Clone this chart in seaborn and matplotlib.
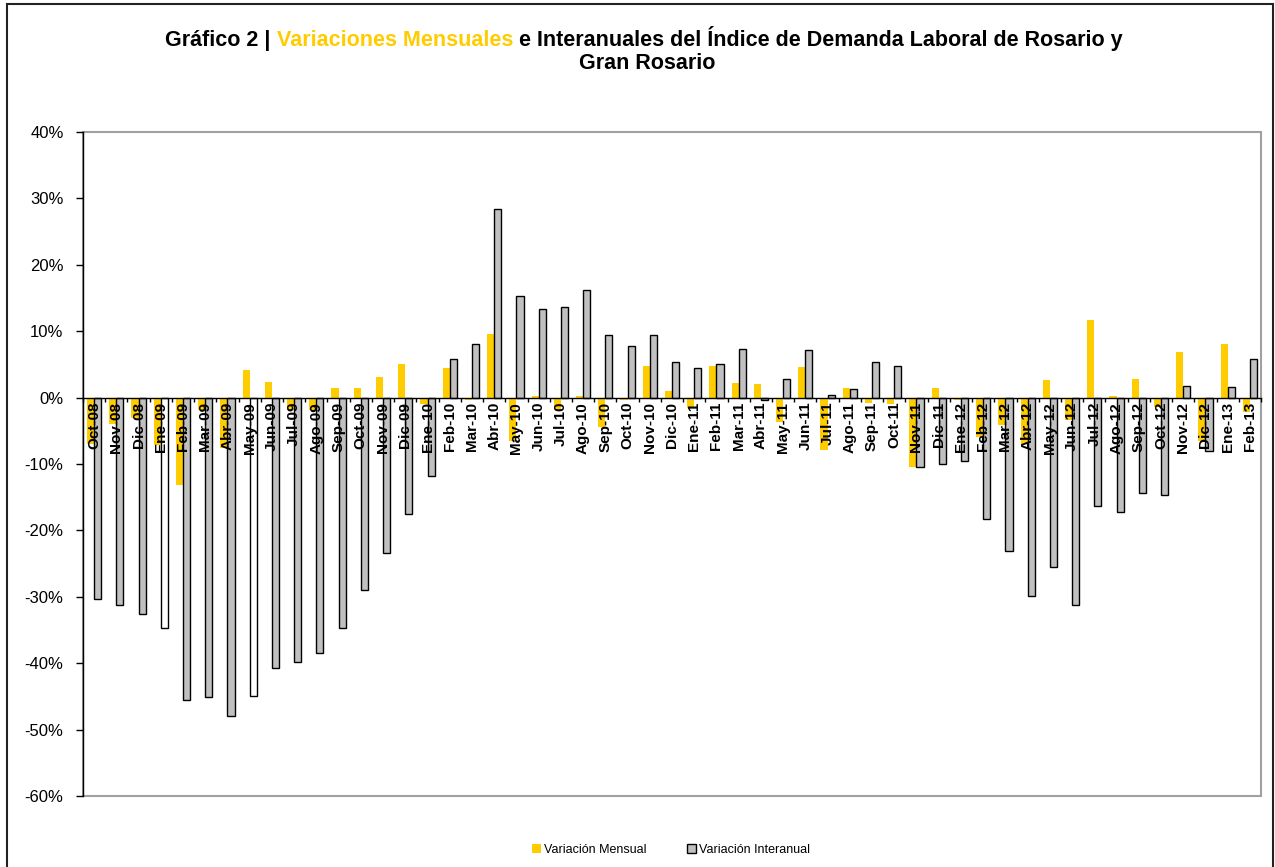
import matplotlib
matplotlib.use('Agg')
import pandas as pd
import seaborn as sns
import matplotlib.pyplot as plt
from matplotlib.patches import Rectangle, Patch
from matplotlib.ticker import FuncFormatter, FixedLocator

# Datos (en %)
meses = ['Oct-08', 'Nov-08', 'Dic-08',
         'Ene-09', 'Feb-09', 'Mar-09', 'Abr-09', 'May-09', 'Jun-09', 'Jul-09', 'Ago-09', 'Sep-09', 'Oct-09', 'Nov-09', 'Dic-09',
         'Ene-10', 'Feb-10', 'Mar-10', 'Abr-10', 'May-10', 'Jun-10', 'Jul-10', 'Ago-10', 'Sep-10', 'Oct-10', 'Nov-10', 'Dic-10',
         'Ene-11', 'Feb-11', 'Mar-11', 'Abr-11', 'May-11', 'Jun-11', 'Jul-11', 'Ago-11', 'Sep-11', 'Oct-11', 'Nov-11', 'Dic-11',
         'Ene-12', 'Feb-12', 'Mar-12', 'Abr-12', 'May-12', 'Jun-12', 'Jul-12', 'Ago-12', 'Sep-12', 'Oct-12', 'Nov-12', 'Dic-12',
         'Ene-13', 'Feb-13']

mensual = [-7.0, -4.0, -3.0,
           -7.2, -13.2, -1.8, -7.6, 4.2, 2.3, -1.9, -1.8, 1.4, 1.4, 3.1, 5.0,
           -0.9, 4.4, -0.3, 9.6, -6.6, 0.3, -1.8, 0.3, -4.5, -0.3, 4.8, 1.0,
           -1.6, 4.8, 2.2, 2.0, -3.7, 4.6, -7.9, 1.4, -0.8, -1.0, -10.4, 1.4,
           -0.3, -6.0, -4.1, -7.0, 2.6, -3.4, 11.7, 0.3, 2.8, -1.4, 6.9, -6.6,
           8.0, -2.2]

interanual = [-30.3, -31.2, -32.6,
              -34.7, -45.5, -45.1, -47.9, -44.9, -40.7, -39.8, -38.4, -34.7, -29.0, -23.4, -17.5,
              -11.8, 5.8, 8.1, 28.4, 15.3, 13.4, 13.6, 16.2, 9.4, 7.7, 9.4, 5.3,
              4.5, 5.1, 7.3, -0.3, 2.8, 7.1, 0.4, 1.35, 5.3, 4.7, -10.4, -9.95,
              -9.5, -18.3, -23.1, -29.9, -25.5, -31.2, -16.3, -17.2, -14.4, -14.7, 1.7, -8.0,
              1.55, 5.8]

series = ['Variación Mensual', 'Variación Interanual']
blancos = ['Ene-09', 'May-09']  # barras interanuales sin relleno

amarillo = '#FFCC00'
gris = '#C0C0C0'

df = pd.DataFrame({
    'mes': meses * 2,
    'serie': [series[0]] * len(meses) + [series[1]] * len(meses),
    'valor': mensual + interanual,
})

sns.set_style('white')
plt.rcParams['font.family'] = ['Liberation Sans', 'DejaVu Sans']
plt.rcParams['text.color'] = 'black'
plt.rcParams['xtick.color'] = 'black'
plt.rcParams['ytick.color'] = 'black'
plt.rcParams['xtick.labelcolor'] = 'black'
plt.rcParams['ytick.labelcolor'] = 'black'

fig = plt.figure(figsize=(12.75, 8.67), dpi=100)
ax = fig.add_axes([83 / 1275, 1 - 796 / 867, (1261 - 83) / 1275, (796 - 132) / 867])

sns.barplot(data=df, x='mes', y='valor', hue='serie', hue_order=series,
            palette=[amarillo, gris], width=0.64, saturation=1, legend=False, ax=ax)

for b in ax.containers[0]:
    b.set_edgecolor('none')
for i, b in enumerate(ax.containers[1]):
    b.set_edgecolor('black')
    b.set_linewidth(1.0)
    if meses[i] in blancos:
        b.set_facecolor('white')

ax.set_axisbelow(False)
ax.set_xlim(-0.5, len(meses) - 0.5)
ax.set_ylim(-60, 40)
ax.set_yticks(range(-60, 41, 10))
ax.yaxis.set_major_formatter(FuncFormatter(lambda v, p: f'{v:.0f}%'))
ax.tick_params(axis='y', left=True, length=5, width=1, color='black', pad=9, labelsize=12)
ax.set_xlabel('')
ax.set_ylabel('')

# eje x sobre el cero
for s in ['top', 'right']:
    ax.spines[s].set_visible(False)
ax.spines['left'].set_color('black')
ax.spines['left'].set_linewidth(1)
ax.spines['bottom'].set_position(('data', 0))
ax.spines['bottom'].set_color('black')
ax.spines['bottom'].set_linewidth(1)
ax.tick_params(axis='x', which='major', length=0, pad=3)
ax.xaxis.set_minor_locator(FixedLocator([i + 0.5 for i in range(-1, len(meses))]))
ax.tick_params(axis='x', which='minor', bottom=True, length=3, width=1, color='black', direction='out')
for lab in ax.get_xticklabels():
    lab.set_rotation(90)
    lab.set_fontweight('bold')
    lab.set_fontsize(11)
    lab.set_va('top')

ax.add_patch(Rectangle((0, 0), 1, 1, transform=ax.transAxes, fill=False,
                       edgecolor='#A0A0A0', linewidth=1.5, clip_on=False, zorder=0.5))

# marco exterior
fig.patches.append(Rectangle((7 / 1275, -0.01), (1273 - 7) / 1275, 1.01 - 4 / 867,
                             transform=fig.transFigure, fill=False,
                             edgecolor='#222222', linewidth=1.5))

# titulo con parte en color
fig.canvas.draw()
r = fig.canvas.get_renderer()
fs = 15.5


def ancho(s):
    t = fig.text(0, 0, s, fontsize=fs, fontweight='bold')
    w = t.get_window_extent(r).width
    t.remove()
    return w


esp = ancho('a a') - ancho('aa')
partes = [('Gráfico 2 |', 'black'), ('Variaciones Mensuales', amarillo),
          ('e Interanuales del Índice de Demanda Laboral de Rosario y', 'black')]
anchos = [ancho(p) for p, c in partes]
total = sum(anchos) + esp * (len(partes) - 1)
x = 644 - total / 2
for (p, c), w in zip(partes, anchos):
    fig.text(x / 1275, 1 - 46 / 867, p, fontsize=fs, fontweight='bold', color=c, va='baseline', ha='left')
    x += w + esp
fig.text(647 / 1275, 1 - 69 / 867, 'Gran Rosario', fontsize=fs, fontweight='bold',
         color='black', va='baseline', ha='center')

handles = [Patch(facecolor=amarillo, edgecolor='none'),
           Patch(facecolor=gris, edgecolor='black', linewidth=1)]
fig.legend(handles, series, loc='center', bbox_to_anchor=(671 / 1275, 1 - 850 / 867),
           ncol=2, frameon=False, fontsize=9, handlelength=0.7, handleheight=0.7,
           handletextpad=0.2, columnspacing=3.3)

fig.savefig('out.png', dpi=100)
